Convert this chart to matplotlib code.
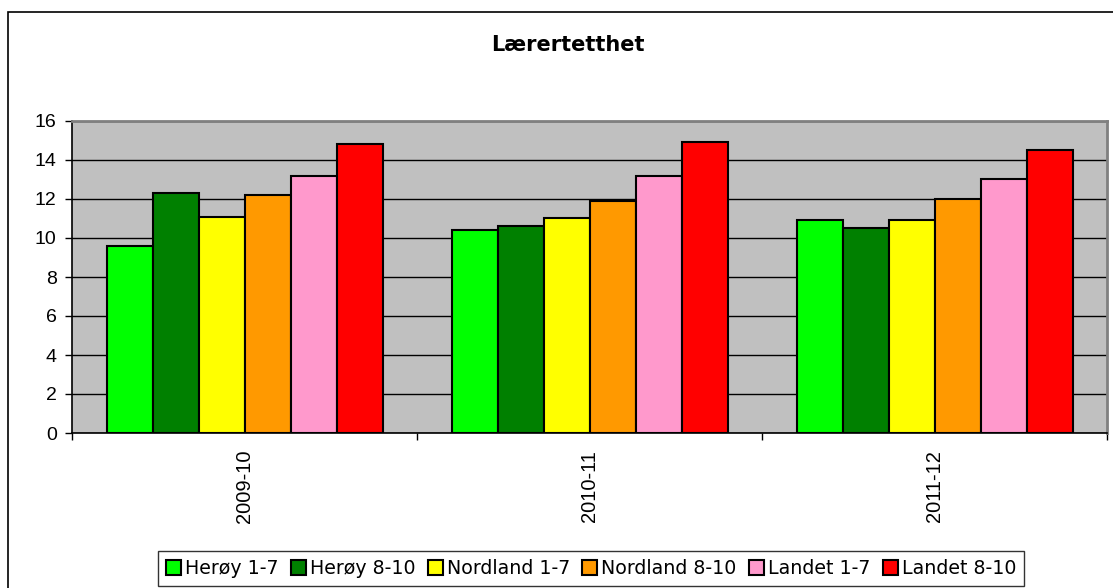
import matplotlib
matplotlib.use("Agg")
import matplotlib.pyplot as plt
from matplotlib.patches import Rectangle
import numpy as np

plt.rcParams['font.family'] = ['Liberation Sans', 'DejaVu Sans']

title = "Lærertetthet"
categories = ["2009-10", "2010-11", "2011-12"]
series_names = ["Herøy 1-7", "Herøy 8-10", "Nordland 1-7", "Nordland 8-10", "Landet 1-7", "Landet 8-10"]
herøy_1_7 = [9.6, 10.4, 10.9]
herøy_8_10 = [12.3, 10.6, 10.5]
nordland_1_7 = [11.1, 11.0, 10.9]
nordland_8_10 = [12.2, 11.9, 12.0]
landet_1_7 = [13.2, 13.2, 13.0]
landet_8_10 = [14.8, 14.9, 14.5]
series_values = [herøy_1_7, herøy_8_10, nordland_1_7, nordland_8_10, landet_1_7, landet_8_10]
colors = ["#00FF00", "#008000", "#FFFF00", "#FF9900", "#FF99CC", "#FF0000"]
yticks = [0, 2, 4, 6, 8, 10, 12, 14, 16]

W, H = 1113, 588
fig = plt.figure(figsize=(W / 100, H / 100), dpi=100)
fig.patch.set_facecolor("white")

# outer chart border
fig.patches.append(Rectangle((7.5 / W, -0.05), 1.2, 1 - 12 / H + 0.05, transform=fig.transFigure,
                             fill=False, edgecolor="black", linewidth=1.2, zorder=0))

ax = fig.add_axes([72 / W, 1 - 433 / H, (1107 - 72) / W, (433 - 121) / H])
ax.set_facecolor("#C0C0C0")

x = np.arange(len(categories))
n = len(series_values)
bw = 0.8 / n
for i, (vals, c, name) in enumerate(zip(series_values, colors, series_names)):
    ax.bar(x - 0.4 + bw * (i + 0.5), vals, width=bw, color=c, edgecolor="black",
           linewidth=1.5, label=name, zorder=3)

ax.set_xlim(-0.5, len(categories) - 0.5)
ax.set_ylim(0, 16)
ax.set_yticks(yticks)
ax.set_yticklabels([str(v) for v in yticks], fontsize=14, family=["Liberation Sans"])
ax.yaxis.grid(True, color="black", linewidth=1.0, zorder=1)
ax.set_axisbelow(True)

ax.set_xticks(x)
ax.set_xticklabels(categories, rotation=90, fontsize=14.5, va="top", family=["Liberation Sans"])
ax.tick_params(axis="x", which="major", length=0, pad=12)
ax.set_xticks(np.arange(-0.5, len(categories)), minor=True)
ax.tick_params(axis="x", which="minor", length=5, width=1, direction="out")
ax.tick_params(axis="y", length=5, width=1, direction="out", pad=6)

for s in ["left", "bottom"]:
    ax.spines[s].set_color("black")
    ax.spines[s].set_linewidth(1.2)
for s in ["top", "right"]:
    ax.spines[s].set_color("#808080")
    ax.spines[s].set_linewidth(2)

fig.text(568 / W, 1 - 45 / H, title, ha="center", va="center", fontsize=15,
         fontweight="bold", family=["DejaVu Sans"])

leg = fig.legend(loc="center", bbox_to_anchor=(591 / W, 1 - 568.5 / H), ncol=6,
                 prop={"family": ["DejaVu Sans"], "size": 13.7},
                 frameon=True, fancybox=False, edgecolor="black", handlelength=0.79, handleheight=0.79,
                 handletextpad=0.2, columnspacing=0.66, borderpad=0.4, borderaxespad=0)
leg.get_frame().set_linewidth(1.0)

fig.savefig("out.png", dpi=100, facecolor="white")
